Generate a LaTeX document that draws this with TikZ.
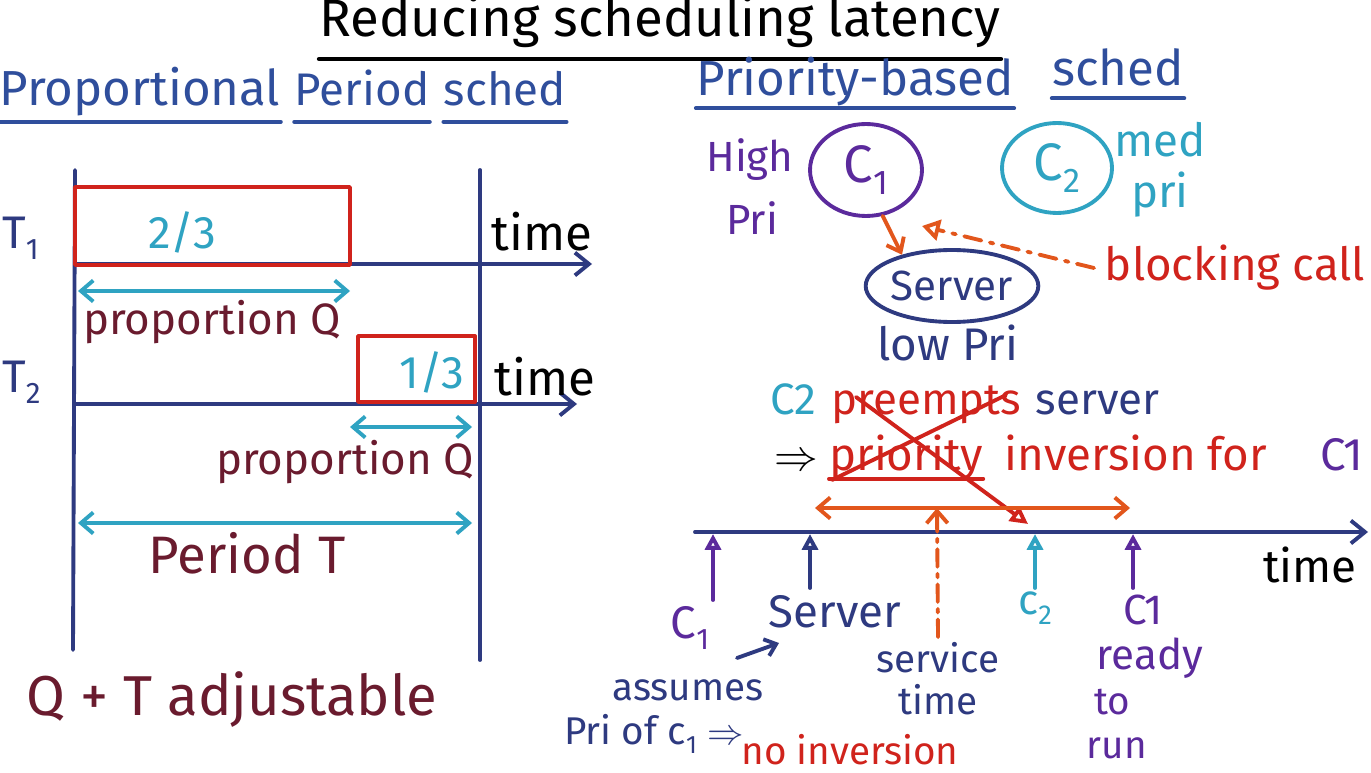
\documentclass[tikz,border=0pt]{standalone}
\usepackage{fontspec}
\setmainfont{Fira Sans}
\usetikzlibrary{arrows.meta,shapes.geometric}
\definecolor{navy}{HTML}{2E3A80}
\definecolor{hblue}{HTML}{2F4E9C}
\definecolor{hred}{HTML}{D0231C}
\definecolor{hteal}{HTML}{2FA3C2}
\definecolor{hmaroon}{HTML}{6A1B2E}
\definecolor{hpurple}{HTML}{5B2A9C}
\definecolor{horange}{HTML}{E2561C}
\newcommand\lsub[1]{\raisebox{-0.45ex}{\scalebox{0.65}{#1}}}
\begin{document}
\begin{tikzpicture}[x=0.02cm,y=-0.02cm,
  every node/.style={inner sep=0pt},
  f22/.style={font=\fontsize{22}{24}\selectfont},
  f24/.style={font=\fontsize{24}{26}\selectfont},
  f25/.style={font=\fontsize{25}{27}\selectfont},
  f26/.style={font=\fontsize{26}{28}\selectfont},
  f28/.style={font=\fontsize{28}{30}\selectfont},
  f30/.style={font=\fontsize{30}{32}\selectfont},
  f32/.style={font=\fontsize{32}{34}\selectfont},
  stroke/.style={line width=2.2pt, line cap=round, line join=round},
  ul/.style={stroke, line width=2.4pt},
  axisline/.style={stroke, navy, -{Straight Barb[length=8pt,width=13pt]}},
  vline/.style={stroke, navy},
  box/.style={draw=hred, stroke, minimum width=#1},
  dbl/.style={stroke, hteal, {Straight Barb[length=7pt,width=12pt]}-{Straight Barb[length=7pt,width=12pt]}},
  odbl/.style={stroke, horange, {Straight Barb[length=7pt,width=12pt]}-{Straight Barb[length=7pt,width=12pt]}},
  uparr/.style={stroke, -{Triangle[open,length=9pt,width=9pt]}},
  ell/.style={draw=hblue, stroke, ellipse},
]
\path[use as bounding box, fill=white] (0,0) rectangle (1371,773);

% ---------- title ----------
\node[f30, black] (title) at (660,22) {Reducing scheduling latency};
\draw[ul, black] ([yshift=-6pt]title.south west) -- ([yshift=-6pt]title.south east);

% ---------- left: proportional period sched ----------
\node[f28, hblue, anchor=base] (prop) at (140,106) {Proportional};
\node[f26, hblue, anchor=base] (per) at (362,106) {Period};
\node[f26, hblue, anchor=base] (sch1) at (505,106) {sched};
\foreach \n in {prop,per,sch1}
  \draw[ul, hblue] ([yshift=-9pt]\n.base west) -- ([yshift=-9pt]\n.base east);

\coordinate (v1t) at (75,170);
\coordinate (v1b) at (73,650);
\coordinate (v2t) at (480,170);
\coordinate (v2b) at (480,660);
\draw[vline] (v1t) -- (v1b);
\draw[vline] (v2t) -- (v2b);

\node[f26, navy, anchor=west] (t1) at (2,238) {T\lsub{1}};
\node[f26, navy, anchor=west] (t2) at (2,382) {T\lsub{2}};

\coordinate (ax1s) at (75,264);
\coordinate (ax1e) at (592,264);
\coordinate (ax2s) at (75,404);
\coordinate (ax2e) at (577,404);
\draw[axisline] (ax1s) -- (ax1e);
\draw[axisline] (ax2s) -- (ax2e);

\node[box=5.5cm, minimum height=1.56cm] (b1) at (212.5,226) {};
\node[box=2.34cm, minimum height=1.32cm] (b2) at (416.5,369) {};
\node[f26, hteal] (q1) at (182,232) {2/3};
\node[f26, hteal] (q2) at (432,372) {1/3};

\node[f28, black] (time1) at (542,232) {time};
\node[f28, black] (time2) at (545,377) {time};

\coordinate (d1a) at (78,291);
\coordinate (d1b) at (350,291);
\coordinate (d2a) at (350,427);
\coordinate (d2b) at (472,427);
\coordinate (d3a) at (78,523);
\coordinate (d3b) at (472,523);
\draw[dbl] (d1a) -- (d1b);
\draw[dbl] (d2a) -- (d2b);
\draw[dbl] (d3a) -- (d3b);

\node[f25, hmaroon] (pq1) at (212,322) {proportion Q};
\node[f25, hmaroon] (pq2) at (345,462) {proportion Q};
\node[f30, hmaroon] (perT) at (247,553) {Period T};
\node[f32, hmaroon] (adj) at (232,700) {Q + T adjustable};

% ---------- right: priority-based sched ----------
\node[f28, hblue, anchor=base] (pb) at (855,96) {Priority-based};
\node[f28, hblue, anchor=base] (sch2) at (1118,86) {sched};
\draw[ul, hblue] ([yshift=-7pt]pb.base west) -- ([yshift=-7pt]pb.base east);
\draw[ul, hblue] ([yshift=-7pt]sch2.base west) -- ([yshift=-7pt]sch2.base east);

\node[ell, minimum width=2.24cm, minimum height=1.84cm, f30, hpurple] (c1) at (866,170) {C\lsub{1}};
\node[ell, minimum width=2.2cm, minimum height=1.8cm, f30, hteal] (c2) at (1057,168) {C\lsub{2}};
\node[ell, minimum width=3.18cm, minimum height=1.44cm, f24, navy] (srv) at (952,286) {Server};

\node[f24, hpurple] (high) at (750,160) {High};
\node[f24, hpurple] (hpri) at (752,218) {Pri};
\node[f26, hteal] (med) at (1160,140) {med};
\node[f26, hteal] (mpri) at (1160,195) {pri};
\node[f26, navy] (lowpri) at (948,343) {low Pri};

\draw[stroke, horange, -{Straight Barb[length=7pt,width=11pt]}] (c1.-70) -- (srv.148);
\node[f26, hred] (blk) at (1235,268) {blocking call};
\coordinate (bcend) at (922,226);
\draw[stroke, horange, dash pattern=on 10pt off 5pt on 2pt off 5pt, -{Triangle[open,length=10pt,width=12pt]}] ([xshift=-6pt]blk.west) -- (bcend);

% statements
\node[f25, hteal, anchor=base west] (c2s) at (770,414) {C2};
\node[f25, hred, anchor=base west] (pre) at ([xshift=8pt]c2s.base east) {preempts};
\node[f25, navy, anchor=base west] (srvs) at ([xshift=8pt]pre.base east) {server};
\node[f25, black, anchor=base west] (imp) at (774,470) {$\Rightarrow$};
\node[f26, hred, anchor=base west] (prio) at ([xshift=6pt]imp.base east) {priority};
\node[f26, hred, anchor=base west] (inv) at ([xshift=12pt]prio.base east) {inversion for};
\node[f26, hpurple, anchor=base west] (forc1) at ([xshift=30pt]inv.base east) {C1};
\draw[stroke, hred] ([yshift=-5pt]prio.base west) -- ([yshift=-5pt]prio.base east);

\coordinate (xa1) at (856,397);
\coordinate (xa2) at (1028,524);
\coordinate (xb1) at (1006,395);
\coordinate (xb2) at (832,480);
\draw[stroke, hred, -{Triangle[open,length=10pt,width=10pt]}] (xa1) -- (xa2);
\draw[stroke, hred] (xb1) -- (xb2);

% timeline
\coordinate (tl0) at (695,532);
\coordinate (tl1) at (1368,532);
\draw[axisline] (tl0) -- (tl1);
\node[f26, black] (time3) at (1310,565) {time};

\coordinate (oa) at (815,508);
\coordinate (ob) at (1130,508);
\draw[odbl] (oa) -- (ob);

\node[f26, hpurple] (lc1) at (690,628) {C\lsub{1}};
\node[f26, navy] (lsrv) at (835,612) {Server};
\node[f24, hteal] (lc2) at (1035,608) {c\lsub{2}};
\node[f24, hpurple] (lc1r) at (1143,610) {C1};
\node[f24, hpurple] (rdy) at (1150,658) {ready};
\node[f22, hpurple] (to) at (1112,702) {to};
\node[f22, hpurple] (run) at (1117,748) {run};
\node[f22, navy] (svc) at (938,658) {service};
\node[f22, navy] (svct) at (938,700) {time};

\coordinate (u1b) at (713,600); \coordinate (u1t) at (713,534);
\coordinate (u2b) at (810,588); \coordinate (u2t) at (810,534);
\coordinate (u3b) at (1035,588); \coordinate (u3t) at (1035,534);
\coordinate (u4b) at (1133,588); \coordinate (u4t) at (1133,534);
\draw[uparr, hpurple] (u1b) -- (u1t);
\draw[uparr, navy] (u2b) -- (u2t);
\draw[uparr, hteal] (u3b) -- (u3t);
\draw[uparr, hpurple] (u4b) -- (u4t);

\coordinate (svcup) at (937,508);
\draw[stroke, horange, dash pattern=on 10pt off 4pt on 2pt off 4pt, -{Straight Barb[length=7pt,width=12pt]}] ([yshift=3pt]svc.north) -- (svcup);

\node[f22, navy] (assm) at (688,690) {assumes};
\node[f22, navy] (priof) at (654,734) {Pri of c\lsub{1} $\Rightarrow$};
\node[f22, hred] (noinv) at (850,750) {no inversion};
\coordinate (sa1) at (737,658);
\coordinate (sa2) at (779,643);
\draw[stroke, navy, -{Straight Barb[length=6pt,width=10pt]}] (sa1) -- (sa2);
\end{tikzpicture}
\end{document}
